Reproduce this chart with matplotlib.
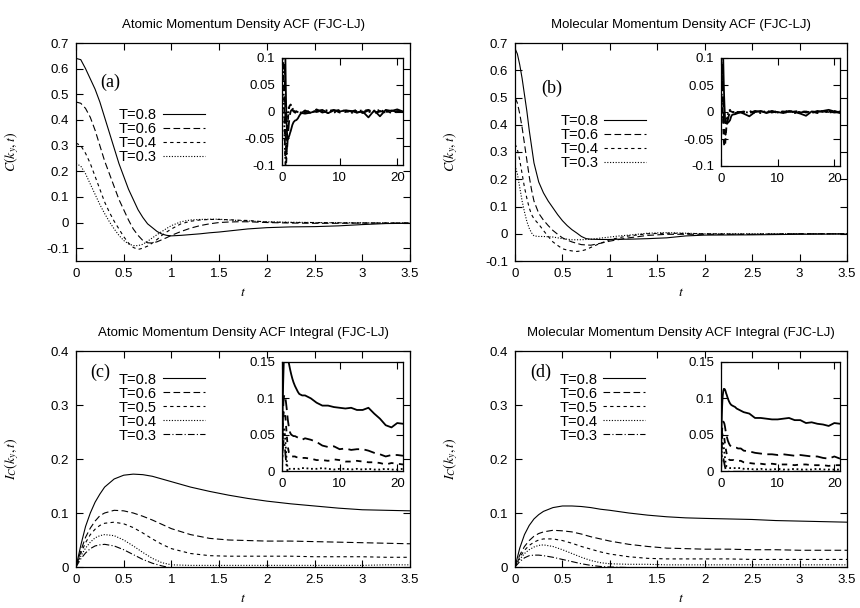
import matplotlib
matplotlib.use("Agg")
import matplotlib.pyplot as plt
from matplotlib.ticker import FuncFormatter

plt.rcParams['font.family'] = ['Liberation Sans', 'DejaVu Sans']
plt.rcParams['mathtext.fontset'] = 'stix'
plt.rcParams['axes.unicode_minus'] = False

# ---------------- data ----------------
# (a) atomic momentum density ACF
t_a = [0, .05, .1, .15, .2, .25, .3, .35, .4, .45, .5, .55, .6, .65, .7, .75, .8, .85, .9, .95,
       1.0, 1.1, 1.2, 1.3, 1.4, 1.5, 1.6, 1.7, 1.8, 2.0, 2.25, 2.5, 2.75, 3.0, 3.25, 3.5]
a_T08 = [.64, .635, .60, .56, .52, .47, .41, .35, .29, .23, .18, .13, .09, .05, .02, -.005, -.02, -.035, -.045, -.05,
         -.052, -.05, -.047, -.044, -.04, -.037, -.033, -.029, -.025, -.02, -.017, -.016, -.013, -.008, -.004, -.003]
a_T06 = [.47, .465, .445, .41, .36, .30, .24, .19, .14, .09, .05, .01, -.025, -.05, -.07, -.079, -.08, -.075, -.067, -.059,
         -.05, -.035, -.022, -.012, -.005, 0.0, .002, .003, .003, .0, -.002, -.003, -.003, -.002, -.002, -.002]
a_T04 = [.31, .30, .27, .23, .18, .13, .08, .04, .005, -.025, -.055, -.08, -.097, -.105, -.10, -.092, -.08, -.066, -.05, -.037,
         -.025, -.005, .005, .01, .012, .012, .011, .009, .008, .002, .0, .0, -.001, -.002, -.002, -.002]
a_T03 = [.23, .22, .19, .15, .11, .07, .035, .003, -.025, -.05, -.07, -.083, -.09, -.09, -.085, -.073, -.06, -.047, -.035, -.023,
         -.012, .003, .01, .012, .013, .013, .01, .008, .006, .003, .001, .0, -.001, -.001, -.002, -.002]

# long-time tails for the insets (t = 4 ... 21)
t_tail = [4, 5, 6, 7, 8, 9, 10, 11, 12, 13, 14, 15, 16, 17, 18, 19, 20, 21]
a_T08_tail = [-.004, -.002, .001, .003, -.003, .002, .0, .002, .001, -.002, .0, -.011, .002, -.009, .003, .001, .004, .0]
a_T06_tail = [.002, -.003, .004, -.002, .001, .003, -.002, .002, .0, .003, -.003, .002, -.004, .001, -.002, .002, -.001, .001]
a_T04_tail = [-.002, .003, -.001, .002, -.003, .001, .003, -.001, .002, -.002, .001, .003, -.002, .0, .002, -.003, .001, .0]
a_T03_tail = [.001, -.002, .002, .0, .003, -.002, .001, .002, -.003, .001, .002, -.001, .0, .003, -.001, .001, -.002, .001]

# (b) molecular momentum density ACF
t_b = [0, .025, .05, .075, .1, .125, .15, .175, .2, .25, .3, .35, .4, .45, .5, .55, .6, .65, .7, .75, .8, .9,
       1.0, 1.1, 1.2, 1.4, 1.6, 1.8, 2.0, 2.5, 3.0, 3.5]
b_T08 = [.68, .66, .62, .57, .51, .45, .38, .32, .26, .19, .15, .12, .095, .07, .048, .03, .015, .003, -.01, -.018,
         -.02, -.021, -.021, -.02, -.02, -.018, -.015, -.008, -.005, -.004, -.002, -.001]
b_T06 = [.50, .48, .44, .39, .33, .27, .21, .16, .12, .075, .05, .03, .012, -.002, -.015, -.023, -.03, -.035, -.04, -.041,
         -.042, -.035, -.027, -.021, -.015, -.006, -.002, -.002, -.002, -.002, .0, .0]
b_T04 = [.33, .31, .27, .22, .17, .13, .095, .07, .055, .035, .012, -.01, -.03, -.043, -.055, -.06, -.063, -.065, -.063, -.058,
         -.05, -.035, -.022, -.014, -.008, .0, .002, .001, .0, -.002, .0, .0]
b_T03 = [.25, .22, .17, .12, .08, .045, .02, .003, -.008, -.01, -.01, -.011, -.012, -.015, -.018, -.02, -.022, -.022, -.022, -.021,
         -.02, -.016, -.012, -.008, -.005, .002, .004, .002, .0, .0, .0, .0]
b_T08_tail = [-.003, -.008, .0, .002, -.002, .001, .0, -.002, .002, .0, -.003, -.007, .001, .0, .002, .004, .001, -.002]
b_T06_tail = [.001, -.002, .002, .0, -.001, .002, -.002, .001, .0, .002, -.001, .001, -.002, .002, .0, .001, -.001, .0]
b_T04_tail = [-.001, .002, -.002, .001, .0, -.001, .002, .0, -.002, .001, .002, -.001, .001, -.002, .001, .0, .002, -.001]
b_T03_tail = [.0, -.001, .001, -.002, .002, .0, -.001, .001, .002, -.002, .0, .001, -.001, .0, .002, -.001, .0, .001]

# (c) atomic ACF integral
t_c = [0, .05, .1, .15, .2, .25, .3, .4, .5, .6, .7, .8, .9, 1.0, 1.2, 1.4, 1.6, 1.8, 2.0, 2.25, 2.5, 2.75, 3.0, 3.25, 3.5]
c_T08 = [0, .04, .075, .1, .12, .135, .148, .163, .17, .172, .171, .168, .163, .158, .148, .14, .133, .127, .122, .117,
         .113, .109, .106, .105, .104]
c_T06 = [0, .03, .055, .072, .085, .095, .1, .105, .104, .1, .094, .087, .079, .071, .06, .053, .05, .049, .048, .048,
         .047, .046, .045, .044, .043]
c_T05 = [0, .025, .045, .06, .07, .077, .081, .083, .08, .073, .063, .052, .042, .034, .025, .021, .02, .02, .02, .02,
         .019, .019, .019, .018, .018]
c_T04 = [0, .02, .035, .046, .054, .058, .06, .058, .05, .039, .027, .016, .008, .004, .003, .003, .003, .003, .003, .003,
         .003, .003, .003, .004, .004]
c_T03 = [0, .015, .026, .034, .039, .041, .042, .039, .032, .023, .014, .007, .002, -.002, -.005, -.006, -.006, -.006, -.006, -.006,
         -.006, -.006, -.006, -.006, -.006]
c_T08_tail = [.104, .1, .094, .09, .09, .088, .087, .086, .087, .084, .084, .087, .079, .072, .063, .06, .066, .065]
c_T06_tail = [.045, .043, .04, .035, .033, .034, .03, .031, .029, .03, .03, .028, .025, .023, .02, .022, .022, .021]
c_T05_tail = [.018, .017, .015, .015, .014, .016, .015, .013, .013, .014, .013, .012, .012, .011, .009, .011, .01, .009]
c_T04_tail = [.004, .003, .003, .004, .003, .002, .003, .003, .002, .003, .002, .003, .002, .002, .003, .002, .002, .003]
c_T03_tail = [-.006] * 18

# (d) molecular ACF integral
t_d = t_c
d_T08 = [0, .035, .06, .077, .089, .097, .103, .11, .113, .113, .112, .11, .107, .105, .1, .096, .093, .091, .09, .089,
         .088, .086, .085, .084, .083]
d_T06 = [0, .022, .038, .049, .057, .062, .065, .068, .067, .065, .061, .056, .052, .048, .042, .038, .035, .034, .033, .033,
         .032, .032, .031, .031, .031]
d_T05 = [0, .018, .031, .04, .046, .05, .052, .052, .049, .044, .038, .033, .028, .024, .019, .016, .015, .015, .015, .015,
         .014, .014, .014, .014, .014]
d_T04 = [0, .014, .025, .032, .037, .04, .041, .038, .032, .025, .018, .012, .008, .006, .005, .005, .004, .004, .004, .004,
         .004, .004, .004, .004, .004]
d_T03 = [0, .01, .017, .021, .022, .022, .021, .018, .014, .01, .006, .003, .001, .0, -.001, -.001, -.001, -.001, -.001, -.001,
         -.001, -.001, -.001, -.001, -.001]
d_T08_tail = [.081, .079, .073, .073, .072, .071, .071, .072, .073, .07, .07, .066, .067, .065, .064, .062, .066, .065]
d_T06_tail = [.028, .027, .025, .024, .023, .023, .022, .023, .022, .021, .022, .021, .02, .02, .018, .017, .02, .017]
d_T05_tail = [.012, .011, .01, .01, .009, .01, .009, .009, .009, .008, .009, .009, .008, .008, .008, .007, .008, .008]
d_T04_tail = [.003, .003, .002, .003, .002, .002, .003, .002, .002, .003, .002, .002, .002, .003, .002, .002, .002, .002]
d_T03_tail = [-.001] * 18

labels4 = ["T=0.8", "T=0.6", "T=0.4", "T=0.3"]
labels5 = ["T=0.8", "T=0.6", "T=0.5", "T=0.4", "T=0.3"]

titles = ["Atomic Momentum Density ACF (FJC-LJ)",
          "Molecular Momentum Density ACF (FJC-LJ)",
          "Atomic Momentum Density ACF Integral (FJC-LJ)",
          "Molecular Momentum Density ACF Integral (FJC-LJ)"]

# line styles (gnuplot-like)
SOLID = '-'
DASH = (0, (6, 3))
SHORT = (0, (3, 3))
DOT = (0, (1, 1.5))
DASHDOT = (0, (6, 2, 1, 2))

W, H = 860, 608


def box(l, t, r, b):
    return [l / W, 1 - b / H, (r - l) / W, (b - t) / H]


fmt = FuncFormatter(lambda v, p: "%g" % round(v, 4))


def style_axes(ax, size=9.5):
    ax.tick_params(direction='in', top=True, right=True, length=5, width=0.8,
                   labelsize=size, pad=5)
    ax.xaxis.set_major_formatter(fmt)
    ax.yaxis.set_major_formatter(fmt)
    for s in ax.spines.values():
        s.set_linewidth(0.9)


def panel(ax, inset, t, series, tails, labels, styles, ylim, yticks, ilim, iticks,
          title, ylabel, tag, tagpos, legpos):
    for y, ls, lab in zip(series, styles, labels):
        ax.plot(t, y, color='black', lw=0.8, linestyle=ls, label=lab)
    ax.set_xlim(0, 3.5)
    ax.set_xticks([0, 0.5, 1, 1.5, 2, 2.5, 3, 3.5])
    ax.set_ylim(*ylim)
    ax.set_yticks(yticks)
    style_axes(ax)
    ax.set_title(title, fontsize=9.5, pad=11)
    ax.set_xlabel(r"$t$", fontsize=10, labelpad=4)
    ax.set_ylabel(ylabel, fontsize=10)
    ax.yaxis.set_label_coords(-0.165, 0.5)
    ax.text(tagpos[0], tagpos[1], tag, transform=ax.transAxes, fontsize=13,
            family='Liberation Serif', ha='left', va='center')
    ax.legend(loc='upper left', bbox_to_anchor=legpos, frameon=False, markerfirst=False,
              handlelength=2.9, handletextpad=0.4, labelspacing=0.0, borderpad=0,
              borderaxespad=0, fontsize=10.5)

    for y, tl, ls in zip(series, tails, styles):
        inset.plot(list(t) + t_tail, list(y) + tl, color='black', lw=1.3, linestyle=ls)
    inset.set_xlim(0, 21)
    inset.set_xticks([0, 10, 20])
    inset.set_ylim(*ilim)
    inset.set_yticks(iticks)
    style_axes(inset)


fig = plt.figure(figsize=(W / 100, H / 100), dpi=100)

axA = fig.add_axes(box(76, 43, 410, 261))
axB = fig.add_axes(box(515, 43, 847, 261))
axC = fig.add_axes(box(76, 351, 410, 567))
axD = fig.add_axes(box(515, 351, 847, 567))
inA = fig.add_axes(box(282, 58, 403, 165))
inB = fig.add_axes(box(721, 58, 840, 166))
inC = fig.add_axes(box(282, 362, 403, 471))
inD = fig.add_axes(box(721, 362, 840, 471))

st4 = [SOLID, DASH, SHORT, DOT]
st5 = [SOLID, DASH, SHORT, DOT, DASHDOT]
acf_ticks = [-0.1, 0, 0.1, 0.2, 0.3, 0.4, 0.5, 0.6, 0.7]
int_ticks = [0, 0.1, 0.2, 0.3, 0.4]

panel(axA, inA, t_a, [a_T08, a_T06, a_T04, a_T03],
      [a_T08_tail, a_T06_tail, a_T04_tail, a_T03_tail], labels4, st4,
      (-0.15, 0.7), acf_ticks, (-0.1, 0.1), [-0.1, -0.05, 0, 0.05, 0.1],
      titles[0], r"$C(k_y,t)$", "(a)", (0.072, 0.82), (0.129, 0.70))
panel(axB, inB, t_b, [b_T08, b_T06, b_T04, b_T03],
      [b_T08_tail, b_T06_tail, b_T04_tail, b_T03_tail], labels4, st4,
      (-0.1, 0.7), acf_ticks, (-0.1, 0.1), [-0.1, -0.05, 0, 0.05, 0.1],
      titles[1], r"$C(k_y,t)$", "(b)", (0.078, 0.79), (0.136, 0.675))
panel(axC, inC, t_c, [c_T08, c_T06, c_T05, c_T04, c_T03],
      [c_T08_tail, c_T06_tail, c_T05_tail, c_T04_tail, c_T03_tail], labels5, st5,
      (0, 0.4), int_ticks, (0, 0.15), [0, 0.05, 0.1, 0.15],
      titles[2], r"$I_C(k_y,t)$", "(c)", (0.042, 0.90), (0.129, 0.90))
panel(axD, inD, t_d, [d_T08, d_T06, d_T05, d_T04, d_T03],
      [d_T08_tail, d_T06_tail, d_T05_tail, d_T04_tail, d_T03_tail], labels5, st5,
      (0, 0.4), int_ticks, (0, 0.15), [0, 0.05, 0.1, 0.15],
      titles[3], r"$I_C(k_y,t)$", "(d)", (0.045, 0.90), (0.133, 0.90))

fig.savefig("out.png", dpi=100)
